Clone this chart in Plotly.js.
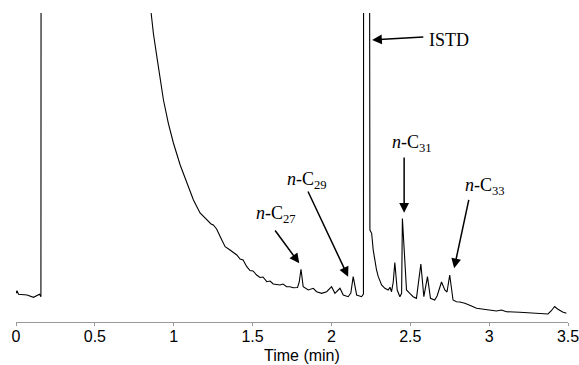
<!DOCTYPE html>
<html>
<head>
<meta charset="utf-8">
<script src="https://cdn.plot.ly/plotly-3.0.1.min.js"></script>
<style>html,body{margin:0;padding:0;background:#fff;}#chart{width:579px;height:365px;}</style>
</head>
<body>
<div id="chart"></div>
<script>
// Retention time (min)
var timeMin = [0.000,0.006,0.016,0.070,0.111,0.133,0.149,0.158,0.162,0.165,
  0.740,0.775,0.857,0.871,0.893,0.914,0.935,0.966,0.998,1.041,1.083,1.125,1.167,1.210,1.237,1.251,1.272,1.305,1.326,1.357,1.400,1.421,1.440,1.463,1.484,1.503,1.526,1.547,1.566,1.590,1.611,1.631,1.674,1.693,1.716,1.737,1.758,1.785,1.796,1.807,1.815,1.821,1.853,1.885,1.906,1.938,1.970,2.001,2.022,2.054,2.075,2.106,2.123,2.138,2.160,2.191,2.203,
  2.210,2.226,2.244,2.255,2.265,2.286,2.297,2.318,2.339,2.360,2.371,2.381,2.392,2.402,2.417,2.434,2.445,2.450,2.476,2.497,2.518,2.539,2.567,2.586,2.609,2.628,2.655,2.670,2.698,2.719,2.733,2.750,2.771,2.793,2.814,2.846,2.867,2.888,2.920,2.983,3.046,3.078,3.110,3.194,3.278,3.373,3.393,3.415,3.434,3.447,3.466,3.490];
// Detector response (arbitrary units; off-scale where > axis top)
var response = [28.7,31.3,27.7,27.0,24.7,26.0,27.7,25.3,2500,2500,
  2500,422,308.7,288.7,265.3,242,222,198.7,179,157,140,122,109,102,98,97,93,82,75.3,72,67,63,62,55.3,51.5,51,47,44.5,45,40.3,41,38,37,38,35.3,35.3,34.3,34.5,40,52.7,40,35.3,32,33.7,30.3,28.7,30.3,35.3,28.7,33.7,27,25.3,29,45.3,27,25.3,28,
  2500,2500,92,88.7,72,52,45.3,37,33.7,32,34.7,30.3,40,59.5,32,25.3,28.7,103.5,32,28.7,25.3,23.7,58,25.3,45.3,23.7,22,26,40,32,30,47,22,20.3,20,18.7,17,16,13.7,12,11,12,10.3,9.7,8.7,8,11,15.5,13,11.5,10,8.7];
var xTicks = [0,0.5,1,1.5,2,2.5,3,3.5];
var xTickText = ['0','0.5','1','1.5','2','2.5','3','3.5'];

var serif = 'Liberation Serif, Times New Roman, serif';
var labelFont = {family: serif, size: 18, color: '#000'};

function arrow(hx, hy, tx, ty) {
  return {x: hx, y: hy, ax: tx, ay: ty, xref: 'x', yref: 'y', axref: 'x', ayref: 'y',
    text: '', showarrow: true, arrowhead: 2, arrowsize: 1.3, arrowwidth: 1.5,
    arrowcolor: '#000', standoff: 0, startstandoff: 0};
}
function label(x, y, t) {
  return {x: x, y: y, xref: 'x', yref: 'y', text: t, showarrow: false, font: labelFont,
    xanchor: 'center', yanchor: 'middle'};
}

var trace = {x: timeMin, y: response, type: 'scatter', mode: 'lines',
  line: {color: '#000', width: 1.1}, hoverinfo: 'skip'};

var layout = {
  width: 579, height: 365,
  margin: {l: 16, r: 11, t: 13, b: 43},
  paper_bgcolor: '#fff', plot_bgcolor: '#fff',
  showlegend: false,
  xaxis: {range: [0, 3.5], tickvals: xTicks, ticktext: xTickText,
    showline: true, linecolor: '#999', linewidth: 1, ticks: 'outside', ticklen: 3,
    tickcolor: '#999', showgrid: false, zeroline: false, automargin: false,
    ticklabeloverflow: 'allow', ticklabelstandoff: -3,
    tickfont: {family: 'Liberation Sans, Arial, sans-serif', size: 16, color: '#000'}},
  yaxis: {range: [0, 309], visible: false, showgrid: false, zeroline: false},
  annotations: [
    arrow(2.258, 282, 2.592, 285),
    label(2.744, 282, 'ISTD'),
    arrow(1.796, 58.7, 1.636, 93),
    label(1.651, 108, '<i>n</i>-C<sub>27</sub>'),
    arrow(2.106, 45.3, 1.847, 132),
    label(1.843, 142, '<i>n</i>-C<sub>29</sub>'),
    arrow(2.461, 109.3, 2.461, 166),
    label(2.512, 178.5, '<i>n</i>-C<sub>31</sub>'),
    arrow(2.778, 53.7, 2.873, 123.7),
    label(2.974, 135.5, '<i>n</i>-C<sub>33</sub>'),
    {x: 0.518, y: -0.110, xref: 'paper', yref: 'paper', text: 'Time (min)', showarrow: false,
     xanchor: 'center', yanchor: 'middle',
     font: {family: 'Liberation Sans, Arial, sans-serif', size: 16, color: '#000'}}
  ]
};

Plotly.newPlot('chart', [trace], layout, {staticPlot: true, displayModeBar: false});
</script>
</body>
</html>
